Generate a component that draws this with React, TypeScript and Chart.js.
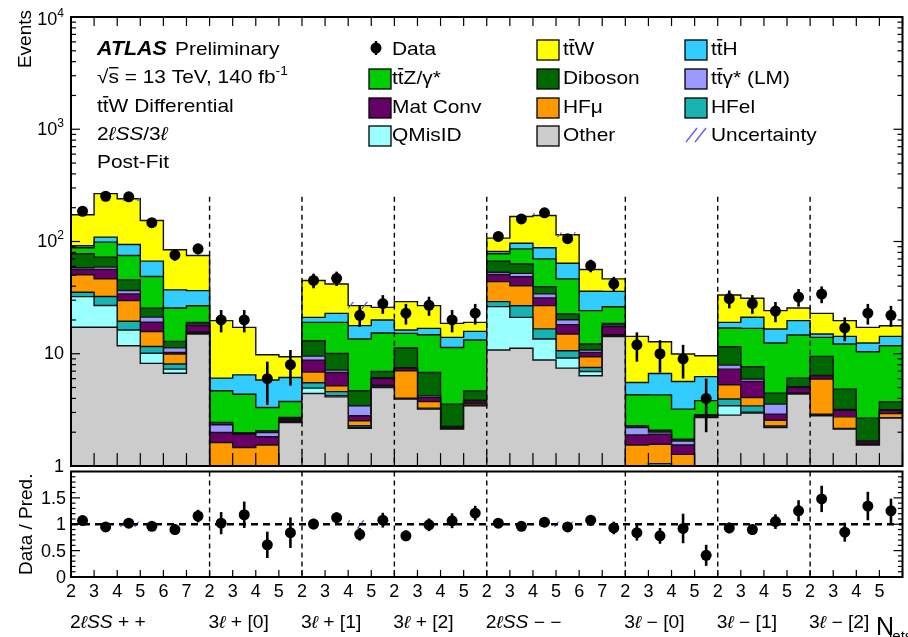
import React, { useEffect, useRef } from 'react';
import { Chart, registerables } from 'chart.js';
Chart.register(...registerables);

const FONT = '"Liberation Sans", Arial, Helvetica, sans-serif';
const N = 36;
const HS = 1.1; // horizontal text stretch of the reference

// ---------- categories ----------
const jetLabels = ['2','3','4','5','6','7','2','3','4','5','2','3','4','5','2','3','4','5','2','3','4','5','6','7','2','3','4','5','2','3','4','5','2','3','4','5'];
const regionNames = ['2ℓSS + +', '3ℓ + [0]', '3ℓ + [1]', '3ℓ + [2]', '2ℓSS − −', '3ℓ − [0]', '3ℓ − [1]', '3ℓ − [2]'];
const regionStartBins = [0, 6, 10, 14, 18, 24, 28, 32];

// ---------- background components (events per bin) ----------
const other   = [17.2, 17.2, 11.8, 8.2, 6.7, 15.0, 0.6, 0.6, 0.6, 2.44, 4.42, 4.13, 2.17, 5.0, 3.94, 3.21, 2.13, 3.43, 10.8, 11.2, 8.8, 7.45, 6.36, 14.2, 0.6, 0.6, 0.6, 2.7, 2.84, 2.97, 2.2, 4.37, 2.8, 2.13, 1.54, 2.67];
const qmisid  = [15.1, 9.7, 4.5, 1.9, 0.6, 0.2, 0.02, 0.02, 0.02, 0.03, 0.52, 0.11, 0.03, 0.05, 0.03, 0.02, 0.01, 0.02, 15.5, 9.9, 4.75, 1.71, 0.59, 0.2, 0.02, 0.02, 0.02, 0.02, 0.6, 0.05, 0.02, 0.02, 0.02, 0.01, 0.01, 0.01];
const hfel    = [3.0, 5.5, 3.15, 1.5, 0.8, 0.2, 0.05, 0.05, 0.05, 0.03, 0.57, 0.36, 0.08, 0.13, 0.05, 0.05, 0.01, 0.05, 2.85, 5.7, 3.1, 1.48, 0.6, 0.2, 0.05, 0.43, 0.05, 0.02, 0.51, 0.41, 0.05, 0.03, 0.07, 0.02, 0.01, 0.02];
const hfmu    = [15.2, 14.2, 10.3, 4.2, 1.85, 0.2, 0.95, 0.79, 0.87, 0.05, 1.35, 0.57, 0.25, 0.06, 3.03, 0.47, 0.03, 0.12, 14.8, 13.6, 10.2, 4.35, 1.86, 0.2, 0.87, 0.51, 0.6, 0.03, 1.34, 0.64, 0.29, 0.05, 3.06, 0.58, 0.02, 0.23];
const matconv = [5.8, 9.8, 4.4, 3.3, 0.33, 2.2, 0.37, 0.46, 0.28, 0.07, 1.92, 1.63, 0.27, 0.77, 0.4, 0.32, 0.05, 0.19, 6.8, 8.2, 4.6, 3.17, 0.87, 2.6, 0.35, 0.36, 0.27, 0.04, 2.0, 1.6, 0.34, 0.53, 0.42, 0.4, 0.07, 0.21];
const ttgamLM = [2.0, 2.7, 2.4, 2.1, 1.0, 0.6, 0.34, 0.03, 0.17, 0.02, 0.75, 0.34, 0.64, 0.1, 0.08, 0.14, 0.02, 0.05, 2.45, 3.4, 2.7, 1.95, 0.52, 0.6, 0.31, 0.09, 0.13, 0.02, 0.63, 0.29, 0.66, 0.1, 0.05, 0.05, 0.02, 0.03];
const diboson = [19.4, 13.5, 9.0, 4.3, 1.6, 0.6, 0.11, 0.03, 0.07, 0.07, 3.53, 2.91, 1.24, 0.83, 3.71, 2.6, 1.31, 0.81, 13.5, 11.1, 5.5, 2.5, 1.42, 0.62, 0.08, 0.07, 0.06, 0.04, 3.62, 1.71, 0.9, 0.97, 3.05, 1.65, 1.0, 0.56];
const ttZ     = [10.2, 26.2, 29.5, 23.3, 12.7, 7.8, 2.24, 2.38, 1.26, 1.05, 5.96, 8.97, 8.86, 8.35, 3.94, 7.97, 7.82, 8.58, 11.0, 22.9, 30.4, 23.8, 12.0, 7.64, 2.03, 2.22, 1.48, 0.95, 5.41, 9.17, 8.0, 8.62, 4.52, 7.37, 7.75, 8.06];
const ttH     = [3.7, 10.6, 19.0, 18.0, 11.5, 9.7, 1.39, 2.13, 2.51, 2.39, 2.07, 3.86, 4.25, 4.69, 1.1, 2.04, 2.6, 2.57, 3.76, 10.5, 17.8, 17.6, 11.8, 9.72, 1.24, 2.37, 2.45, 2.43, 2.07, 4.28, 4.15, 5.02, 1.01, 2.06, 2.04, 2.48];
const ttW     = [81.6, 157.5, 146.6, 87.2, 47.3, 38.5, 13.65, 10.68, 3.97, 3.26, 23.8, 19.0, 9.05, 5.92, 12.85, 10.0, 4.66, 3.21, 25.6, 70.6, 82.8, 50.8, 20.2, 10.45, 8.73, 6.13, 4.28, 3.36, 14.4, 10.1, 7.59, 5.88, 7.9, 5.44, 4.71, 3.51];

// ---------- data ----------
const dataEvents = [186, 253, 250, 147, 76, 86, 20, 20, 6, 8, 45, 47, 22, 28, 23, 27, 20, 23, 111, 159, 180, 106, 61, 42, 12, 10, 9, 4, 31, 28, 24, 32, 34, 17, 23, 22];
const dataErr    = [13.6, 15.9, 15.8, 12.1, 8.7, 9.3, 4.5, 4.5, 2.5, 2.8, 6.7, 6.9, 4.7, 5.3, 4.8, 5.2, 4.5, 4.8, 10.5, 12.6, 13.4, 10.3, 7.8, 6.5, 3.5, 3.2, 3.0, 2.0, 5.6, 5.3, 4.9, 5.7, 5.8, 4.1, 4.8, 4.7];
const ratioValues = [1.07, 0.95, 1.02, 0.96, 0.90, 1.155, 1.02, 1.18, 0.61, 0.84, 1.005, 1.125, 0.81, 1.077, 0.78, 0.99, 1.066, 1.21, 1.02, 0.96, 1.04, 0.95, 1.077, 0.93, 0.84, 0.78, 0.92, 0.41, 0.93, 0.90, 1.05, 1.255, 1.48, 0.85, 1.345, 1.255];
const ratioErr    = [0.08, 0.06, 0.06, 0.08, 0.1, 0.12, 0.21, 0.25, 0.25, 0.29, 0.1, 0.1, 0.12, 0.14, 0.1, 0.12, 0.14, 0.14, 0.08, 0.06, 0.06, 0.08, 0.1, 0.12, 0.15, 0.15, 0.28, 0.2, 0.1, 0.1, 0.14, 0.2, 0.25, 0.18, 0.27, 0.23];
const uncertaintyRel = [0, 0, 0.05, 0, 0, 0, 0, 0, 0, 0, 0, 0, 0.08, 0, 0, 0, 0, 0, 0, 0, 0.05, 0.05, 0, 0, 0, 0, 0, 0, 0, 0, 0, 0, 0, 0, 0, 0];

// ---------- tick labels ----------
const logDecades = [0, 1, 2, 3, 4];
const ratioTickLabels = [
  { v: 0, t: '0' }, { v: 0.5, t: '0.5' }, { v: 1, t: '1' }, { v: 1.5, t: '1.5' },
];

const layers = [
  { name: 'Other', values: other, color: '#cccccc' },
  { name: 'QMisID', values: qmisid, color: '#99ffff' },
  { name: 'HFel', values: hfel, color: '#19b2b2' },
  { name: 'HFmu', values: hfmu, color: '#ff9900' },
  { name: 'Mat Conv', values: matconv, color: '#660066' },
  { name: 'ttgamma LM', values: ttgamLM, color: '#9999ff' },
  { name: 'Diboson', values: diboson, color: '#006600' },
  { name: 'ttZ', values: ttZ, color: '#00cc00' },
  { name: 'ttH', values: ttH, color: '#33ccff' },
  { name: 'ttW', values: ttW, color: '#ffff00' },
];

type Part = { t: string; i?: boolean; b?: boolean; sup?: boolean; sub?: boolean; bar?: boolean };

function drawRich(ctx: CanvasRenderingContext2D, parts: Part[], x: number, y: number, size: number, hs: number = HS) {
  let cx = x;
  ctx.textAlign = 'left';
  ctx.textBaseline = 'alphabetic';
  for (const p of parts) {
    const fs = p.sup ? size * 0.66 : p.sub ? size * 0.62 : size;
    ctx.font = `${p.i ? 'italic ' : ''}${p.b ? 'bold ' : ''}${fs}px ${FONT}`;
    const dy = p.sup ? -size * 0.42 : p.sub ? size * 0.28 : 0;
    ctx.save();
    ctx.translate(cx, y + dy);
    ctx.scale(hs, 1);
    ctx.fillText(p.t, 0, 0);
    ctx.restore();
    const w = ctx.measureText(p.t).width * hs;
    if (p.bar) ctx.fillRect(cx + w * 0.05, y - size * 0.84, w * 0.9, 1.4);
    cx += w;
  }
  return cx;
}

function regionParts(s: string): Part[] {
  const out: Part[] = [];
  for (const ch of s) {
    const it = ch === 'ℓ' || ch === 'S';
    const last = out[out.length - 1];
    if (last && !!last.i === it) last.t += ch;
    else out.push({ t: ch, i: it });
  }
  return out;
}

const tbar = (rest: string): Part[] => [{ t: 't' }, { t: 't', bar: true }, { t: rest }];

const legendEntries: { kind: string; color?: string; parts: Part[] }[] = [
  { kind: 'data', parts: [{ t: 'Data' }] },
  { kind: 'box', color: '#ffff00', parts: tbar('W') },
  { kind: 'box', color: '#33ccff', parts: tbar('H') },
  { kind: 'box', color: '#00cc00', parts: tbar('Z/γ*') },
  { kind: 'box', color: '#006600', parts: [{ t: 'Diboson' }] },
  { kind: 'box', color: '#9999ff', parts: tbar('γ* (LM)') },
  { kind: 'box', color: '#660066', parts: [{ t: 'Mat Conv' }] },
  { kind: 'box', color: '#ff9900', parts: [{ t: 'HFμ' }] },
  { kind: 'box', color: '#19b2b2', parts: [{ t: 'HFel' }] },
  { kind: 'box', color: '#99ffff', parts: [{ t: 'QMisID' }] },
  { kind: 'box', color: '#cccccc', parts: [{ t: 'Other' }] },
  { kind: 'hatch', parts: [{ t: 'Uncertainty' }] },
];
const legendBoxX = [369, 537, 685];
const legendTextX = [392, 563, 711];
const legendBaselines = [55, 84, 113, 141];

const HATCH = '#5b5bf5';
function makeHatch(ctx: CanvasRenderingContext2D) {
  const c = document.createElement('canvas');
  c.width = 14; c.height = 18;
  const g = c.getContext('2d')!;
  g.strokeStyle = HATCH; g.lineWidth = 1.3;
  g.beginPath();
  g.moveTo(-1, 18 + 18 / 14); g.lineTo(15, -18 / 14);
  g.stroke();
  return ctx.createPattern(c, 'repeat')!;
}

function cumulative(): number[][] {
  const out: number[][] = [];
  let run = new Array(N).fill(0);
  for (const l of layers) {
    run = run.map((v: number, i: number) => v + l.values[i]);
    out.push(run);
  }
  return out;
}
const cum = cumulative();
const totals = cum[cum.length - 1];

function stepPoints(vals: number[]) {
  const pts = vals.map((y, i) => ({ x: i, y }));
  pts.push({ x: N, y: vals[N - 1] });
  return pts;
}

function line(ctx: CanvasRenderingContext2D, x1: number, y1: number, x2: number, y2: number) {
  ctx.beginPath(); ctx.moveTo(x1, y1); ctx.lineTo(x2, y2); ctx.stroke();
}

const DATA_INDEX = layers.length;

const mainPlugin = {
  id: 'mainDecor',
  beforeDatasetDraw(chart: any, args: any) {
    if (args.index !== DATA_INDEX) return;
    const { ctx, chartArea: a, scales: { x, y } } = chart;
    ctx.save();
    ctx.beginPath(); ctx.rect(a.left, a.top, a.right - a.left, a.bottom - a.top); ctx.clip();
    ctx.fillStyle = makeHatch(ctx);
    for (let i = 0; i < N; i++) {
      const u = uncertaintyRel[i];
      if (!u) continue;
      const y1 = y.getPixelForValue(totals[i] * (1 + u));
      const y2 = y.getPixelForValue(totals[i] * (1 - u));
      const x1 = x.getPixelForValue(i), x2 = x.getPixelForValue(i + 1);
      ctx.fillRect(x1, y1, x2 - x1, y2 - y1);
    }
    ctx.restore();
  },
  afterDatasetsDraw(chart: any) {
    const { ctx, chartArea: a, scales: { x, y } } = chart;
    ctx.clearRect(0, a.bottom, chart.width, chart.height - a.bottom);
    ctx.save();
    ctx.strokeStyle = '#000';
    ctx.lineWidth = 2.6;
    for (let i = 0; i < N; i++) {
      const cx = x.getPixelForValue(i + 0.5);
      const y1 = y.getPixelForValue(dataEvents[i] + dataErr[i]);
      const y2 = Math.min(a.bottom, y.getPixelForValue(Math.max(dataEvents[i] - dataErr[i], 0.5)));
      line(ctx, cx, y1, cx, y2);
    }
    ctx.setLineDash([5, 4]);
    ctx.lineWidth = 1.4;
    for (const b of regionStartBins.slice(1)) {
      const px = x.getPixelForValue(b);
      line(ctx, px, y.getPixelForValue(250), px, a.bottom);
    }
    ctx.restore();
  },
  afterDraw(chart: any) {
    const { ctx, chartArea: a, scales: { x, y } } = chart;
    ctx.save();
    ctx.strokeStyle = '#000';
    ctx.fillStyle = '#000';
    // ticks
    ctx.lineWidth = 1.2;
    for (let i = 0; i <= N; i++) {
      const px = x.getPixelForValue(i);
      line(ctx, px, a.top, px, a.top + 9);
      line(ctx, px, a.bottom, px, a.bottom - 13);
    }
    for (const p of logDecades) {
      for (let m = 1; m <= 9; m++) {
        const v = m * Math.pow(10, p);
        if (v > 10000) break;
        const py = y.getPixelForValue(v);
        const len = m === 1 ? 9 : 5;
        line(ctx, a.left, py, a.left + len, py);
        line(ctx, a.right, py, a.right - len, py);
      }
    }
    // frame
    ctx.lineWidth = 2;
    ctx.strokeRect(a.left, a.top, a.right - a.left, a.bottom - a.top);
    // y labels
    for (const p of logDecades) {
      const py = y.getPixelForValue(Math.pow(10, p));
      const base = p === 4 ? py + 8 : py + 5.5;
      const mainTxt = p === 0 ? '1' : '10';
      const sup = p >= 2 ? String(p) : '';
      ctx.font = `18px ${FONT}`;
      const w1 = ctx.measureText(mainTxt).width;
      ctx.font = `12px ${FONT}`;
      const w2 = sup ? ctx.measureText(sup).width : 0;
      const sx = 64 - w1 - w2;
      ctx.textAlign = 'left';
      ctx.font = `18px ${FONT}`;
      ctx.fillText(mainTxt, sx, base);
      if (sup) { ctx.font = `12px ${FONT}`; ctx.fillText(sup, sx + w1, base - 8); }
    }
    // axis title
    ctx.save();
    ctx.translate(31, 10);
    ctx.rotate(-Math.PI / 2);
    ctx.textAlign = 'right';
    ctx.font = `19px ${FONT}`;
    ctx.fillText('Events', 0, 0);
    ctx.restore();
    // annotations
    drawRich(ctx, [{ t: 'ATLAS', b: true, i: true }], 97, 55, 19.5);
    drawRich(ctx, [{ t: 'Preliminary' }], 175, 55, 19);
    drawRich(ctx, [{ t: '√' }, { t: 's', bar: true }, { t: ' = 13 TeV, 140 fb' }, { t: '-1', sup: true }], 97, 83, 19);
    drawRich(ctx, tbar('W Differential'), 97, 112, 19);
    drawRich(ctx, [{ t: '2' }, { t: 'ℓ', i: true }, { t: 'SS', i: true }, { t: '/3' }, { t: 'ℓ', i: true }], 97, 140, 19);
    drawRich(ctx, [{ t: 'Post-Fit' }], 97, 168, 19);
    // legend
    legendEntries.forEach((e, k) => {
      const row = Math.floor(k / 3), col = k % 3;
      const base = legendBaselines[row];
      const bx = legendBoxX[col];
      if (e.kind === 'data') {
        const cx = 376, cy = base - 7;
        ctx.lineWidth = 2.6;
        line(ctx, cx, cy - 7, cx, cy + 7);
        ctx.beginPath(); ctx.arc(cx, cy, 5.5, 0, Math.PI * 2); ctx.fill();
      } else if (e.kind === 'box') {
        ctx.fillStyle = e.color!;
        ctx.fillRect(bx, base - 15, 22, 20);
        ctx.fillStyle = '#000';
        ctx.lineWidth = 1.3;
        ctx.strokeRect(bx, base - 15, 22, 20);
      } else {
        ctx.strokeStyle = HATCH; ctx.lineWidth = 1.3;
        line(ctx, bx + 1, base + 1, bx + 12, base - 13);
        line(ctx, bx + 10, base + 1, bx + 21, base - 13);
        ctx.strokeStyle = '#000';
      }
      ctx.fillStyle = '#000';
      drawRich(ctx, e.parts, legendTextX[col], base, 19);
    });
    ctx.restore();
  },
};

const ratioPlugin = {
  id: 'ratioDecor',
  beforeDatasetsDraw(chart: any) {
    const { ctx, chartArea: a, scales: { x, y } } = chart;
    ctx.save();
    ctx.fillStyle = makeHatch(ctx);
    for (let i = 0; i < N; i++) {
      const u = uncertaintyRel[i];
      if (!u) continue;
      const y1 = y.getPixelForValue(1 + u), y2 = y.getPixelForValue(1 - u);
      const x1 = x.getPixelForValue(i), x2 = x.getPixelForValue(i + 1);
      ctx.fillRect(x1, y1, x2 - x1, y2 - y1);
    }
    ctx.strokeStyle = '#000';
    ctx.setLineDash([7, 5]);
    ctx.lineWidth = 2.6;
    line(ctx, a.left, y.getPixelForValue(1), a.right, y.getPixelForValue(1));
    ctx.setLineDash([5, 4]);
    ctx.lineWidth = 1.4;
    for (const b of regionStartBins.slice(1)) {
      const px = x.getPixelForValue(b);
      line(ctx, px, a.top, px, a.bottom);
    }
    ctx.restore();
  },
  afterDatasetsDraw(chart: any) {
    const { ctx, scales: { x, y } } = chart;
    ctx.save();
    ctx.strokeStyle = '#000';
    ctx.lineWidth = 2.6;
    for (let i = 0; i < N; i++) {
      const cx = x.getPixelForValue(i + 0.5);
      line(ctx, cx, y.getPixelForValue(ratioValues[i] + ratioErr[i]), cx, y.getPixelForValue(ratioValues[i] - ratioErr[i]));
    }
    ctx.restore();
  },
  afterDraw(chart: any) {
    const { ctx, chartArea: a, scales: { x, y } } = chart;
    ctx.save();
    ctx.strokeStyle = '#000';
    ctx.fillStyle = '#000';
    ctx.lineWidth = 1.2;
    for (let i = 0; i <= N; i++) {
      const px = x.getPixelForValue(i);
      line(ctx, px, a.bottom, px, a.bottom - 7);
    }
    for (let k = 0; k <= 20; k++) {
      const v = k / 10;
      const py = y.getPixelForValue(v);
      const len = k % 5 === 0 ? 9 : 4.5;
      line(ctx, a.left, py, a.left + len, py);
      line(ctx, a.right, py, a.right - len, py);
    }
    ctx.lineWidth = 2;
    ctx.strokeRect(a.left, a.top, a.right - a.left, a.bottom - a.top);
    // y labels
    ctx.font = `18px ${FONT}`;
    ctx.textAlign = 'right';
    for (const t of ratioTickLabels) {
      ctx.fillText(t.t, 66, y.getPixelForValue(t.v) + 6);
    }
    // x labels
    ctx.textAlign = 'center';
    for (let i = 0; i < N; i++) {
      ctx.fillText(jetLabels[i], x.getPixelForValue(i), a.bottom + 20);
    }
    // region names
    regionNames.forEach((nm, k) => {
      drawRich(ctx, regionParts(nm), x.getPixelForValue(regionStartBins[k]) - 1, a.bottom + 51, 17.5);
    });
    drawRich(ctx, [{ t: 'N' }], 876, a.bottom + 58, 25, 1);
    drawRich(ctx, [{ t: 'jets' }], 889, a.bottom + 64, 15, 1);
    // title
    ctx.save();
    ctx.translate(32, (a.top + a.bottom) / 2);
    ctx.rotate(-Math.PI / 2);
    ctx.textAlign = 'center';
    ctx.font = `19px ${FONT}`;
    ctx.fillText('Data / Pred.', 0, 0);
    ctx.restore();
    ctx.restore();
  },
};

export default function App() {
  const mainRef = useRef<HTMLCanvasElement>(null);
  const ratioRef = useRef<HTMLCanvasElement>(null);

  useEffect(() => {
    const stackSets = layers.map((l, k) => ({
      label: l.name,
      data: stepPoints(cum[k]),
      borderColor: '#111',
      borderWidth: 1.4,
      backgroundColor: l.color,
      fill: k === 0 ? 'start' : '-1',
      stepped: true,
      pointRadius: 0,
      tension: 0,
    }));
    const dataSet = {
      label: 'Data',
      data: dataEvents.map((v, i) => ({ x: i + 0.5, y: v })),
      showLine: false,
      pointRadius: 5.5,
      pointBackgroundColor: '#000',
      pointBorderColor: '#000',
      pointBorderWidth: 0,
      fill: false,
      order: -1,
    };
    const main = new Chart(mainRef.current!, {
      type: 'line',
      data: { datasets: [...stackSets, dataSet] as any },
      options: {
        responsive: false,
        animation: false,
        devicePixelRatio: 1,
        events: [],
        layout: { padding: { left: 71, right: 2, top: 17, bottom: 24 } },
        scales: {
          x: { type: 'linear', min: 0, max: N, display: false },
          y: { type: 'logarithmic', min: 1, max: 10000, display: false },
        },
        plugins: { legend: { display: false }, tooltip: { enabled: false } },
      },
      plugins: [mainPlugin],
    } as any);

    const ratio = new Chart(ratioRef.current!, {
      type: 'line',
      data: {
        datasets: [{
          label: 'Data / Pred.',
          data: ratioValues.map((v, i) => ({ x: i + 0.5, y: v })),
          showLine: false,
          pointRadius: 5.5,
          pointBackgroundColor: '#000',
          pointBorderColor: '#000',
          pointBorderWidth: 0,
        }],
      },
      options: {
        responsive: false,
        animation: false,
        devicePixelRatio: 1,
        events: [],
        layout: { padding: { left: 71, right: 2, top: 0, bottom: 60 } },
        scales: {
          x: { type: 'linear', min: 0, max: N, display: false },
          y: { type: 'linear', min: 0, max: 2, display: false },
        },
        plugins: { legend: { display: false }, tooltip: { enabled: false } },
      },
      plugins: [ratioPlugin],
    } as any);

    return () => { main.destroy(); ratio.destroy(); };
  }, []);

  return (
    <div style={{ position: 'absolute', left: 0, top: 0, width: 908, height: 637, background: '#fff', overflow: 'hidden' }}>
      <canvas ref={ratioRef} width={908} height={171} style={{ position: 'absolute', left: 0, top: 466, width: 908, height: 171 }} />
      <canvas ref={mainRef} width={908} height={490} style={{ position: 'absolute', left: 0, top: 0, width: 908, height: 490 }} />
    </div>
  );
}
